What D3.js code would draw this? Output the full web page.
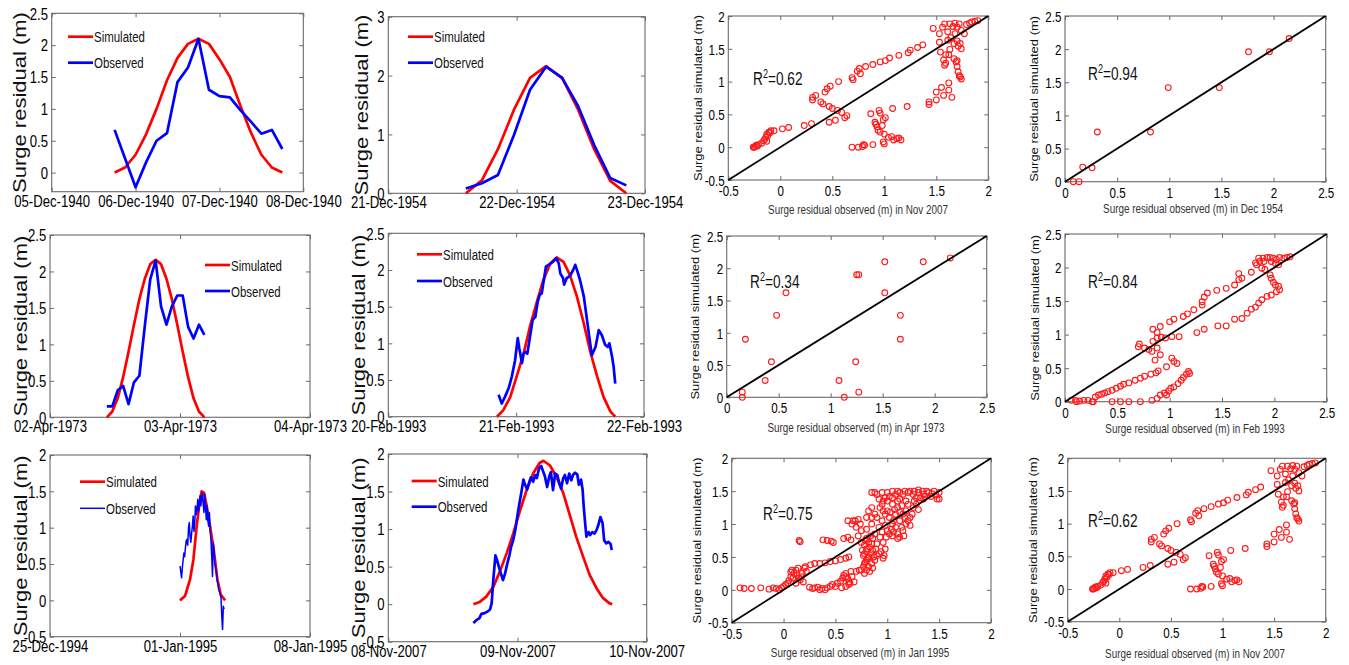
<!DOCTYPE html>
<html>
<head>
<meta charset="utf-8">
<script src="https://cdnjs.cloudflare.com/ajax/libs/d3/7.8.5/d3.min.js"></script>
<style>
  html, body { margin: 0; padding: 0; background: #fff; }
  svg { display: block; }
  text { font-family: "Liberation Sans", Arial, sans-serif; }
</style>
</head>
<body>
<svg id="fig" width="1349" height="665"></svg>
<script>
// ---------------- Data ----------------
// Storm of December 1940 (hours after 05-Dec-1940 00:00)
const dec1940Hours = [18, 21, 24, 27, 30, 33, 36, 39, 42, 45, 48, 51, 54, 57, 60, 63, 66];
const dec1940Sim   = [0, 0.08, 0.28, 0.6, 1.0, 1.45, 1.8, 2.02, 2.1, 2.02, 1.78, 1.5, 1.05, 0.63, 0.28, 0.08, 0];
const dec1940Obs   = [0.67, 0.22, -0.23, 0.16, 0.5, 0.62, 1.42, 1.65, 2.1, 1.3, 1.2, 1.18, 0.98, 0.8, 0.61, 0.67, 0.37];

// Storm of December 1954 (hours after 21-Dec-1954 00:00)
const dec1954Hours = [14.5, 17.5, 20.5, 23.5, 26.5, 29.5, 32.5, 35.5, 38.5, 41.5, 44.5];
const dec1954Sim   = [0, 0.22, 0.75, 1.42, 1.96, 2.16, 1.96, 1.42, 0.75, 0.21, 0];
const dec1954Obs   = [0.08, 0.17, 0.31, 0.99, 1.76, 2.15, 1.96, 1.48, 0.82, 0.26, 0.135];

// Storm of April 1973 (hours after 02-Apr-1973 00:00)
const apr1973Hours = [10.5, 11.5, 12.5, 13.5, 14.5, 15.5, 16.5, 17.5, 18.5, 19.5, 20.5, 21.5, 22.5, 23.5, 24.5, 25.5, 26.5, 27.5, 28.5];
const apr1973Sim   = [0, 0.08, 0.26, 0.55, 0.90, 1.27, 1.62, 1.90, 2.10, 2.16, 2.10, 1.90, 1.62, 1.27, 0.90, 0.55, 0.26, 0.08, 0];
const apr1973Obs   = [0.15, 0.15, 0.37, 0.43, 0.18, 0.48, 0.57, 1.25, 1.89, 2.15, 1.52, 1.27, 1.52, 1.67, 1.67, 1.24, 1.08, 1.27, 1.13];

// Storm of February 1993 (hours after 20-Feb-1993 00:00)
const feb1993SimHours = [20.4, 21.6, 22.9, 24.1, 25.4, 26.6, 27.9, 29.1, 30.4, 31.6, 32.9, 34.1, 35.4, 36.7, 37.9, 39.2, 40.4, 41.7, 42.6];
const feb1993Sim      = [0, 0.09, 0.27, 0.55, 0.86, 1.23, 1.57, 1.86, 2.09, 2.17, 2.11, 1.93, 1.64, 1.27, 0.89, 0.55, 0.27, 0.07, 0];
const feb1993ObsHours = [20.7, 21.3, 21.9, 22.6, 23.2, 23.8, 24.3, 24.6, 25.1, 25.4, 25.7, 26.1, 26.6, 27.1, 27.6, 28.0, 28.4, 28.8, 29.3, 29.6,
                         30.1, 30.5, 30.9, 31.5, 32.0, 32.3, 32.8, 33.0, 33.5, 34.1, 34.7, 35.1, 35.5, 36.0, 36.7, 37.3, 37.9, 38.2, 38.9, 39.5,
                         40.1, 40.7, 41.2, 41.5, 42.0, 42.3, 42.6];
const feb1993Obs      = [0.30, 0.18, 0.27, 0.39, 0.55, 0.77, 1.07, 0.93, 0.73, 0.86, 0.88, 0.86, 1.09, 1.32, 1.36, 1.55, 1.66, 1.68, 1.91, 2.05,
                         2.07, 2.09, 2.11, 2.16, 2.09, 1.95, 1.89, 1.80, 1.89, 1.92, 2.00, 2.07, 1.98, 1.86, 1.64, 1.32, 1.00, 0.84, 0.95, 1.18,
                         1.11, 0.98, 0.95, 1.00, 0.82, 0.68, 0.45];

// Storm of January 1995 (hours after 01-Jan-1995 00:00)
const jan1995SimHours = [0, 6.5, 13, 17.3, 21.6, 24.7, 28, 31, 34.5, 38.9, 44, 48.3, 52.6, 58.3];
const jan1995Sim      = [0, 0.06, 0.29, 0.56, 1.02, 1.30, 1.50, 1.48, 1.30, 1.02, 0.66, 0.29, 0.08, 0];
const jan1995ObsHours = [0, 1, 2, 3, 4, 5, 6, 7, 8, 9, 10, 11, 12, 13, 14, 15, 16, 17, 18, 19, 20, 21, 22, 23, 24, 25, 26, 27, 28, 29,
                         30, 31, 32, 33, 34, 35, 36, 37, 38, 39, 40, 41, 42, 43, 44, 45, 46, 47, 48, 49, 50, 51, 52, 53, 54, 55, 56, 57];
const jan1995Obs      = [0.47, 0.40, 0.31, 0.45, 0.55, 0.65, 0.60, 0.72, 0.82, 0.84, 0.76, 1.00, 1.07, 0.88, 0.80, 0.92, 1.02, 1.16, 0.95, 1.05,
                         1.30, 1.18, 1.25, 1.39, 1.22, 1.35, 1.44, 1.30, 1.42, 1.48, 1.32, 1.21, 1.46, 1.28, 1.11, 1.30, 1.10, 1.02, 1.21, 0.95,
                         0.84, 0.60, 0.33, 0.80, 0.70, 0.52, 0.45, 0.38, 0.28, 0.22, 0.15, 0.12, 0.08, 0.04, -0.22, -0.40, -0.08, -0.12];

// Storm of November 2007 (hours after 08-Nov-2007 00:00)
const nov2007SimHours = [15.8, 17.0, 18.2, 19.5, 20.7, 22.0, 23.2, 24.4, 25.7, 26.9, 28.1, 28.8, 30.0, 31.2, 32.5, 33.7, 34.9, 36.2, 37.4, 38.7, 39.9, 41.1, 41.6];
const nov2007Sim      = [0, 0.03, 0.10, 0.23, 0.43, 0.68, 0.94, 1.23, 1.52, 1.74, 1.88, 1.91, 1.85, 1.70, 1.48, 1.19, 0.90, 0.63, 0.39, 0.21, 0.08, 0.01, 0];
const nov2007ObsHours = [15.8, 16.4, 16.9, 17.3, 17.9, 18.4, 18.9, 19.2, 19.5, 19.9, 20.2, 20.6, 21.0, 21.3, 21.7, 22.1, 22.5, 22.8, 23.2, 23.6,
                         23.9, 24.3, 24.7, 25.1, 25.4, 25.8, 26.2, 26.5, 26.9, 27.3, 27.6, 28.0, 28.4, 28.8, 29.1, 29.5, 29.9, 30.2, 30.6, 31.0,
                         31.4, 31.7, 32.1, 32.5, 32.8, 33.2, 33.6, 34.0, 34.3, 34.7, 35.1, 35.4, 35.8, 36.1, 36.3, 36.6, 36.8, 37.2, 37.5, 37.9,
                         38.3, 38.7, 39.0, 39.4, 39.8, 40.1, 40.5, 40.9, 41.3, 41.5];
const nov2007Obs      = [-0.25, -0.21, -0.19, -0.13, -0.12, -0.10, -0.07, 0.01, 0.32, 0.65, 0.59, 0.48, 0.39, 0.32, 0.41, 0.54, 0.65, 0.76, 0.85, 0.99,
                         1.14, 1.32, 1.48, 1.66, 1.59, 1.53, 1.63, 1.69, 1.63, 1.72, 1.68, 1.81, 1.84, 1.76, 1.70, 1.56, 1.70, 1.76, 1.52, 1.74,
                         1.72, 1.63, 1.54, 1.68, 1.72, 1.61, 1.74, 1.65, 1.72, 1.75, 1.73, 1.59, 1.66, 1.52, 1.30, 1.05, 0.90, 0.96, 0.92, 0.96,
                         0.94, 0.99, 1.05, 1.16, 1.08, 0.85, 0.81, 0.83, 0.80, 0.72];

// Observed / simulated pairs for the dense scatter plots [observed, simulated]
const nov2007Pairs = [
  [-0.26,0.00],[-0.24,0.01],[-0.22,0.02],[-0.21,0.04],[-0.25,0.00],[-0.23,0.03],
  [-0.18,0.06],[-0.16,0.10],[-0.14,0.15],[-0.13,0.20],[-0.12,0.18],[-0.11,0.23],[-0.10,0.22],[-0.09,0.25],[-0.15,0.12],[-0.13,0.09],
  [-0.06,0.25],[0.02,0.28],[0.08,0.30],[0.23,0.33],[0.30,0.36],
  [0.31,0.72],[0.31,0.76],[0.34,0.79],[0.39,0.69],[0.41,0.66],
  [0.43,0.84],[0.45,0.89],[0.48,0.93],[0.56,1.00],
  [0.47,0.62],[0.50,0.59],[0.55,0.56],[0.47,0.38],[0.53,0.41],
  [0.59,0.53],[0.64,0.48],[0.62,0.45],
  [0.69,1.06],[0.70,1.03],[0.74,1.16],[0.76,1.20],[0.77,1.12],
  [0.82,1.23],[0.89,1.26],[0.96,1.30],[1.01,1.32],[1.05,1.36],[1.14,1.40],[1.23,1.44],[1.25,1.48],[1.32,1.52],[1.37,1.56],
  [0.69,0.00],[0.75,0.00],[0.79,0.01],[0.80,0.04],[0.81,0.03],[0.89,0.04],
  [0.87,0.51],[0.95,0.56],[0.96,0.52],[0.91,0.38],[0.92,0.35],[0.93,0.31],[0.94,0.26],[0.96,0.23],[0.98,0.33],[0.99,0.42],[1.01,0.45],[1.08,0.59],[1.22,0.62],
  [1.00,0.20],[0.99,0.08],[1.00,0.05],[1.04,0.15],[1.07,0.16],[1.09,0.11],[1.12,0.13],[1.14,0.14],[1.16,0.11],
  [1.43,0.69],[1.43,0.65],[1.50,0.72],[1.50,0.84],[1.55,0.91],[1.62,0.98],[1.57,0.79],[1.65,0.76],[1.62,0.87],
  [1.58,1.25],[1.59,1.28],[1.57,1.33],[1.62,1.41],[1.63,1.49],[1.59,1.41],[1.54,1.45],[1.67,1.35],[1.69,1.30],[1.70,1.23],[1.71,1.15],[1.72,1.09],[1.74,1.04],[1.73,1.07],[1.70,1.32],
  [1.67,1.58],[1.70,1.62],[1.73,1.58],[1.74,1.50],[1.71,1.54],
  [1.53,1.60],[1.47,1.81],[1.53,1.73],[1.56,1.83],[1.58,1.88],[1.61,1.76],[1.63,1.88],[1.66,1.84],[1.68,1.89],[1.70,1.83],[1.72,1.88],[1.74,1.78],
  [1.77,1.73],[1.79,1.87],[1.82,1.89],[1.84,1.91],[1.87,1.92],[1.90,1.93],[1.68,1.73],[1.64,1.67],[1.61,1.63]
];

const feb1993Pairs = [
  [0.06,0.02],[0.10,0.02],[0.11,0.00],[0.14,0.01],[0.18,0.02],[0.22,0.02],[0.26,0.00],[0.27,0.00],
  [0.29,0.07],[0.32,0.10],[0.35,0.11],[0.38,0.13],[0.41,0.15],[0.45,0.17],[0.49,0.20],[0.53,0.23],[0.56,0.26],[0.61,0.28],
  [0.67,0.32],[0.72,0.35],[0.76,0.38],[0.82,0.41],[0.87,0.43],[0.89,0.46],
  [0.45,0.00],[0.53,0.00],[0.61,0.00],[0.72,0.00],[0.83,0.02],[0.88,0.05],[0.91,0.10],[0.95,0.13],[0.97,0.10],[0.99,0.16],
  [1.01,0.20],[1.04,0.22],[1.08,0.27],[1.11,0.32],[1.13,0.36],[1.16,0.41],[1.18,0.45],[1.19,0.42],
  [1.02,0.65],[1.04,0.60],[1.07,0.57],[0.97,0.52],[0.91,0.70],[0.88,0.80],[0.86,0.62],[0.83,0.75],[0.80,0.78],[0.76,0.80],
  [0.70,0.82],[0.71,0.86],[0.84,0.90],[0.88,0.95],[0.92,0.96],[0.96,0.95],[1.02,0.97],[1.09,0.97],[0.84,1.08],[0.91,1.12],[0.88,1.03],
  [1.00,1.19],[1.04,1.23],[1.13,1.27],[1.17,1.31],[1.23,1.37],[1.31,1.44],[1.31,1.49],[1.33,1.56],[1.36,1.62],[1.45,1.66],
  [1.54,1.69],[1.62,1.74],[1.66,1.82],[1.66,1.91],[1.69,1.84],[1.78,1.93],[1.83,2.04],[1.86,2.09],[1.85,2.14],[1.89,2.14],
  [1.93,2.15],[1.96,2.15],[1.99,2.14],[2.02,2.12],[2.05,2.15],[2.09,2.14],[2.12,2.15],[2.15,2.16],[1.90,2.09],[1.97,2.09],
  [2.01,2.06],[2.04,2.04],[1.82,2.07],
  [1.88,1.99],[1.91,1.97],[1.96,1.89],[1.97,1.84],[1.99,1.78],[2.01,1.74],[2.04,1.72],[2.05,1.67],[2.02,1.64],[1.97,1.59],
  [1.93,1.57],[1.88,1.52],[1.85,1.47],[1.82,1.41],[1.78,1.38],[1.74,1.32],[1.69,1.24],[1.62,1.23],[1.54,1.13],[1.46,1.13],
  [1.33,1.08],[1.26,1.03]
];

const jan1995Pairs = [
  [-0.42,0.03],[-0.38,0.02],[-0.31,0.02],[-0.22,0.03],[-0.14,0.01],[-0.10,0.03],[-0.07,0.02],[-0.04,0.00],[-0.02,0.03],[0.00,0.05],
  [0.02,0.08],[0.04,0.10],[0.05,0.14],[0.07,0.20],[0.07,0.27],[0.08,0.30],[0.10,0.25],[0.12,0.30],[0.13,0.22],[0.15,0.18],
  [0.16,0.15],[0.17,0.20],[0.18,0.25],[0.20,0.33],[0.21,0.35],[0.22,0.28],[0.19,0.12],[0.12,0.10],[0.09,0.18],[0.14,0.33],
  [0.26,0.38],[0.30,0.40],[0.35,0.40],[0.40,0.41],[0.45,0.43],[0.50,0.44],[0.55,0.46],[0.60,0.48],[0.63,0.50],
  [0.15,0.75],[0.16,0.73],[0.42,0.75],[0.46,0.74],[0.48,0.72],[0.38,0.76],[0.58,0.78],[0.62,0.80],[0.65,0.76],
  [0.30,0.03],[0.33,0.04],[0.35,0.00],[0.37,0.02],[0.40,0.00],[0.42,0.03],[0.45,0.05],[0.47,0.08],[0.50,0.05],[0.52,0.10],
  [0.55,0.13],[0.57,0.18],[0.58,0.22],[0.60,0.20],[0.62,0.17],[0.63,0.12],[0.64,0.10],[0.60,0.25],[0.65,0.28],[0.70,0.28],[0.73,0.30],
  [0.75,0.30],[0.77,0.35],[0.78,0.40],[0.80,0.45],[0.82,0.50],[0.78,0.55],[0.76,0.60],[0.80,0.62],[0.83,0.65],[0.85,0.70],
  [0.78,0.68],[0.75,0.72],[0.80,0.78],[0.84,0.82],[0.88,0.85],[0.90,0.52],[0.92,0.55],[0.88,0.45],[0.85,0.40],[0.82,0.35],
  [0.86,0.60],[0.90,0.70],[0.93,0.80],[0.95,0.88],[0.92,0.95],[0.85,1.00],[0.72,0.82],[0.70,0.95],[0.67,1.05],[0.62,1.05],
  [0.66,1.00],[0.75,0.90],[0.80,0.92],[0.82,1.20],[0.85,1.25],
  [0.90,1.10],[0.95,1.05],[0.98,1.15],[1.00,1.20],[1.02,1.10],[1.05,1.00],[1.08,0.95],[1.10,0.85],[1.05,0.82],[1.00,0.90],
  [1.12,1.05],[1.15,1.15],[1.18,1.20],[1.20,1.30],[1.22,1.10],[1.10,1.25],[1.05,1.30],[0.95,1.30],[0.92,1.38],[0.98,1.40],
  [1.02,1.42],[1.08,1.45],[1.12,1.38],[1.15,1.45],[1.20,1.48],[1.25,1.45],[1.28,1.40],[1.30,1.48],[1.35,1.45],[1.40,1.48],
  [1.45,1.50],[1.50,1.48],[1.48,1.38],[1.42,1.42],[1.35,1.38],[1.28,1.30],[1.25,1.25],[1.18,1.35],[0.85,1.48],[0.88,1.48],
  [0.95,1.48],[1.00,1.48],[1.05,1.50],[1.10,1.50],[1.22,1.50],[1.30,1.52],[1.15,0.90],[1.08,1.15],[0.98,0.98],[1.12,0.80],
  [1.18,1.00],[1.22,0.98],[1.30,1.22],
  [0.78,0.25],[0.80,0.30],[0.83,0.28],[0.86,0.33],[0.79,0.42],[0.81,0.48],[0.84,0.55],[0.87,0.50],[0.77,0.52],[0.80,0.58],
  [0.82,0.72],[0.79,0.75],[0.86,0.78],[0.89,0.62],[0.94,0.58],[0.96,0.48],[0.97,0.52],[0.98,0.62],[0.96,0.72],[0.99,0.80],
  [1.02,0.85],[1.04,0.92],[1.06,1.05],[1.03,1.18],[1.07,1.22],[1.12,1.18],[1.14,1.28],[1.17,1.10],[1.20,1.05],[1.24,1.15],
  [1.26,1.35],[1.32,1.40],[1.36,1.42],[1.38,1.50],[1.43,1.46],[1.47,1.44],[1.50,1.38],[1.12,1.48],[1.17,1.50],[1.26,1.50],
  [1.34,1.50],[0.90,1.45],[0.93,1.25],[0.96,1.20],[0.88,1.15],[0.85,1.10],[0.80,1.10],[0.72,1.07],[0.69,1.05],[0.74,1.00],
  [0.96,1.35],[1.00,1.35],[1.05,1.40],[1.10,1.35],[1.14,0.95],[1.16,0.82],[1.10,0.78],[1.06,0.88],[0.66,0.20],[0.63,0.08],
  [0.68,0.12],[0.56,0.03],[0.60,0.05],[0.25,0.04],[0.28,0.02]
];

const legendLabels = ["Simulated", "Observed"];
const yLabelSeries = "Surge residual (m)";
const yLabelScatter = "Surge residual  simulated (m)";
const xLabelScatter = "Surge residual observed (m) in ";

// ---------------- Drawing helpers ----------------
const svg = d3.select("#fig");
const FRAME = "#6a6a6a";
const RED = "#ff0000", BLUE = "#0000ff";
const fmtDate = d3.utcFormat("%d-%b-%Y");
const fmtNum = d => String(d);
const toDates = (base, hours) => {
  const t0 = Date.parse(base + "T00:00:00Z");
  return hours.map(h => new Date(t0 + h * 3600000));
};

// text set in a horizontally condensed face
function narrowText(x, y, str, fs, sx, anchor, fill) {
  return svg.append("text")
    .attr("transform", `translate(${x},${y}) scale(${sx},1)`)
    .attr("text-anchor", anchor || "start")
    .attr("font-size", fs).attr("fill", fill || "#111").text(str);
}

function axesBox(x, y, box, xTicks, yTicks, xFmt, fs, sx, xOff) {
  const g = svg.append("g").attr("color", FRAME);
  const style = sel => {
    sel.attr("font-family", null).attr("font-size", fs);
    sel.select(".domain").remove();
  };
  const bottom = g.append("g").attr("transform", `translate(0,${box.b})`)
    .call(d3.axisBottom(x).tickValues(xTicks).tickFormat(xFmt).tickSizeInner(-4).tickSizeOuter(0)).call(style);
  bottom.selectAll("text").attr("y", xOff).attr("dy", null).attr("fill", "#000")
    .attr("transform", `scale(${sx},1)`);
  const left = g.append("g").attr("transform", `translate(${box.l},0)`)
    .call(d3.axisLeft(y).tickValues(yTicks).tickFormat(fmtNum).tickSizeInner(-4).tickSizeOuter(0)).call(style);
  left.selectAll("text").attr("x", -4.5).attr("dy", "0.36em").attr("fill", "#000")
    .attr("transform", `scale(${sx},1)`);
  g.append("g").attr("transform", `translate(0,${box.t})`)
    .call(d3.axisTop(x).tickValues(xTicks).tickFormat(() => "").tickSizeInner(-4).tickSizeOuter(0)).call(style);
  g.append("g").attr("transform", `translate(${box.r},0)`)
    .call(d3.axisRight(y).tickValues(yTicks).tickFormat(() => "").tickSizeInner(-4).tickSizeOuter(0)).call(style);
  g.append("rect").attr("x", box.l).attr("y", box.t).attr("width", box.r - box.l).attr("height", box.b - box.t)
    .attr("fill", "none").attr("stroke", FRAME).attr("stroke-width", 1.1);
}

function rotatedLabel(cx, cy, txt, fs, sx) {
  svg.append("text")
    .attr("transform", `translate(${cx},${cy}) scale(${sx},1) rotate(-90)`)
    .attr("text-anchor", "middle").attr("dy", "0.35em")
    .attr("font-size", fs).attr("fill", "#111").text(txt);
}

function seriesPanel(c) {
  const x = d3.scaleUtc().domain([new Date(c.domain[0] + "T00:00:00Z"), new Date(c.domain[1] + "T00:00:00Z")]).range([c.box.l, c.box.r]);
  const y = d3.scaleLinear().domain(c.yDomain).range([c.box.b, c.box.t]);
  const ticks = c.ticks.map(d => new Date(d + "T00:00:00Z"));
  axesBox(x, y, c.box, ticks, c.yTicks, fmtDate, 16, 0.82, 15);
  const line = d3.line().x(d => x(d[0])).y(d => y(d[1]));
  const sim = d3.zip(toDates(c.base, c.simHours), c.sim);
  const obs = d3.zip(toDates(c.base, c.obsHours), c.obs);
  svg.append("path").datum(sim).attr("d", line).attr("fill", "none").attr("stroke", RED).attr("stroke-width", 2.7).attr("stroke-linejoin", "round");
  svg.append("path").datum(obs).attr("d", line).attr("fill", "none").attr("stroke", BLUE).attr("stroke-width", c.obsWidth || 2.7).attr("stroke-linejoin", "round");
  // legend
  legendLabels.forEach((lab, i) => {
    const yy = c.legend[1] + i * c.legend[2];
    svg.append("line").attr("x1", c.legend[0]).attr("x2", c.legend[0] + 25).attr("y1", yy).attr("y2", yy)
      .attr("stroke", i === 0 ? RED : BLUE).attr("stroke-width", i === 0 ? 2.7 : (c.obsWidth || 2.7));
    narrowText(c.legend[0] + 26, yy, lab, 15.5, 0.74).attr("dy", "0.36em");
  });
  rotatedLabel(c.yLabelX, (c.box.t + c.box.b) / 2, yLabelSeries, 22, 0.85);
}

function scatterPanel(c) {
  const x = d3.scaleLinear().domain(c.domain).range([c.box.l, c.box.r]);
  const y = d3.scaleLinear().domain(c.domain).range([c.box.b, c.box.t]);
  axesBox(x, y, c.box, c.ticks, c.ticks, fmtNum, 14.5, 0.8, 16);
  svg.append("g").selectAll("circle").data(c.pairs).join("circle")
    .attr("cx", d => x(d[0])).attr("cy", d => y(d[1])).attr("r", 2.9)
    .attr("fill", "none").attr("stroke", "#ff1a1a").attr("stroke-width", 1.1);
  svg.append("line").attr("x1", x(c.domain[0])).attr("y1", y(c.domain[0])).attr("x2", x(c.domain[1])).attr("y2", y(c.domain[1]))
    .attr("stroke", "#000").attr("stroke-width", 1.8);
  const t = narrowText(c.r2Pos[0], c.r2Pos[1], null, 18, 0.76);
  t.append("tspan").text("R");
  t.append("tspan").attr("dy", -7).attr("font-size", 12).text("2");
  t.append("tspan").attr("dy", 7).text("=" + c.r2);
  narrowText(c.xLabelPos[0], c.xLabelPos[1], xLabelScatter + c.period, 13, 0.76, "middle", "#333");
  rotatedLabel(c.yLabelX, (c.box.t + c.box.b) / 2, yLabelScatter, 13, 0.85);
}

// ---------------- Panels ----------------
const ticksHalf25 = [0, 0.5, 1, 1.5, 2, 2.5];
const ticksHalfNeg = [-0.5, 0, 0.5, 1, 1.5, 2];

seriesPanel({ box: {l: 51.7, t: 13.3, r: 303.3, b: 191.7}, domain: ["1940-12-05", "1940-12-08"],
  ticks: ["1940-12-05", "1940-12-06", "1940-12-07", "1940-12-08"], yDomain: [-0.3, 2.5], yTicks: ticksHalf25,
  base: "1940-12-05", simHours: dec1940Hours, sim: dec1940Sim, obsHours: dec1940Hours, obs: dec1940Obs,
  legend: [68, 36.7, 26], yLabelX: 19 });

seriesPanel({ box: {l: 388.3, t: 16.7, r: 645, b: 193.3}, domain: ["1954-12-21", "1954-12-23"],
  ticks: ["1954-12-21", "1954-12-22", "1954-12-23"], yDomain: [0, 3], yTicks: [0, 1, 2, 3],
  base: "1954-12-21", simHours: dec1954Hours, sim: dec1954Sim, obsHours: dec1954Hours, obs: dec1954Obs,
  legend: [408, 36.7, 26], yLabelX: 361 });

scatterPanel({ box: {l: 728.3, t: 16, r: 988.3, b: 180}, domain: [-0.5, 2], ticks: ticksHalfNeg,
  pairs: nov2007Pairs, r2: "0.62", r2Pos: [753, 85], xLabelPos: [858, 214], period: "Nov 2007", yLabelX: 698 });

scatterPanel({ box: {l: 1065, t: 16, r: 1325.7, b: 181.7}, domain: [0, 2.5], ticks: ticksHalf25,
  pairs: d3.zip(dec1954Obs, dec1954Sim), r2: "0.94", r2Pos: [1088, 80], xLabelPos: [1193, 213], period: "Dec 1954", yLabelX: 1034 });

seriesPanel({ box: {l: 50, t: 235, r: 310, b: 417.3}, domain: ["1973-04-02", "1973-04-04"],
  ticks: ["1973-04-02", "1973-04-03", "1973-04-04"], yDomain: [0, 2.5], yTicks: ticksHalf25,
  base: "1973-04-02", simHours: apr1973Hours, sim: apr1973Sim, obsHours: apr1973Hours, obs: apr1973Obs,
  legend: [205, 265, 26], yLabelX: 20 });

seriesPanel({ box: {l: 388.3, t: 233.3, r: 644, b: 416.7}, domain: ["1993-02-20", "1993-02-22"],
  ticks: ["1993-02-20", "1993-02-21", "1993-02-22"], yDomain: [0, 2.5], yTicks: ticksHalf25,
  base: "1993-02-20", simHours: feb1993SimHours, sim: feb1993Sim, obsHours: feb1993ObsHours, obs: feb1993Obs,
  legend: [417, 254.3, 26.7], yLabelX: 358 });

scatterPanel({ box: {l: 726.7, t: 236, r: 986.7, b: 397.3}, domain: [0, 2.5], ticks: ticksHalf25,
  pairs: d3.zip(apr1973Obs, apr1973Sim), r2: "0.34", r2Pos: [750, 288], xLabelPos: [856, 432], period: "Apr 1973", yLabelX: 695 });

scatterPanel({ box: {l: 1065, t: 234, r: 1326.7, b: 401.7}, domain: [0, 2.5], ticks: ticksHalf25,
  pairs: feb1993Pairs, r2: "0.84", r2Pos: [1088, 288], xLabelPos: [1195, 433], period: "Feb 1993", yLabelX: 1035 });

seriesPanel({ box: {l: 50, t: 455, r: 310, b: 636.7}, domain: ["1994-12-25", "1995-01-08"],
  ticks: ["1994-12-25", "1995-01-01", "1995-01-08"], yDomain: [-0.5, 2], yTicks: ticksHalfNeg,
  base: "1995-01-01", simHours: jan1995SimHours, sim: jan1995Sim, obsHours: jan1995ObsHours, obs: jan1995Obs,
  legend: [80, 481.7, 26.6], yLabelX: 20, obsWidth: 1.5 });

seriesPanel({ box: {l: 388.3, t: 454, r: 646.7, b: 641.7}, domain: ["2007-11-08", "2007-11-10"],
  ticks: ["2007-11-08", "2007-11-09", "2007-11-10"], yDomain: [-0.5, 2], yTicks: ticksHalfNeg,
  base: "2007-11-08", simHours: nov2007SimHours, sim: nov2007Sim, obsHours: nov2007ObsHours, obs: nov2007Obs,
  legend: [411.7, 481, 25.7], yLabelX: 358 });

scatterPanel({ box: {l: 731.7, t: 458.3, r: 991, b: 622.7}, domain: [-0.5, 2], ticks: ticksHalfNeg,
  pairs: jan1995Pairs, r2: "0.75", r2Pos: [763, 520], xLabelPos: [860, 657], period: "Jan 1995", yLabelX: 697 });

scatterPanel({ box: {l: 1067.7, t: 458.3, r: 1325.7, b: 621.7}, domain: [-0.5, 2], ticks: ticksHalfNeg,
  pairs: nov2007Pairs, r2: "0.62", r2Pos: [1088, 527], xLabelPos: [1195, 658], period: "Nov 2007", yLabelX: 1033 });
</script>
</body>
</html>
